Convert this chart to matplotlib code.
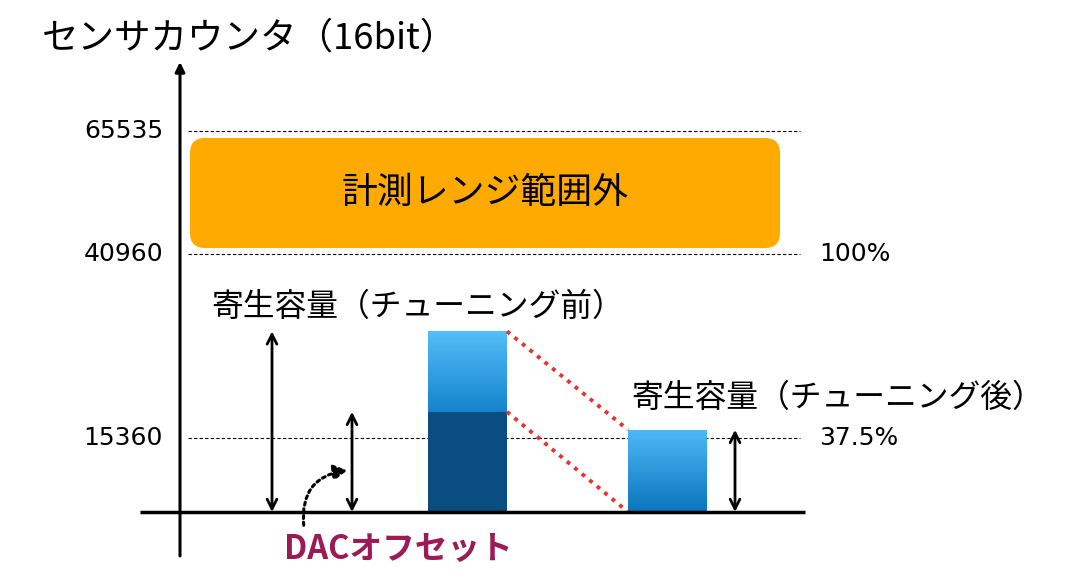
import numpy as np
import matplotlib
matplotlib.use('Agg')
import matplotlib.pyplot as plt
from matplotlib.patches import FancyBboxPatch, FancyArrowPatch
from matplotlib.colors import LinearSegmentedColormap

plt.rcParams['font.family'] = ['Noto Sans CJK JP', 'DejaVu Sans']

# counter levels (16bit) and their labels
levels = [15360, 40960, 65535]
level_labels = ['15360', '40960', '65535']
pct_labels = {15360: '37.5%', 40960: '100%'}

# parasitic capacitance before tuning = DAC offset + remaining part
dac_offset = 19000
parasitic_before = 30200
parasitic_after = 16500

# schematic (not to scale) axis: counts -> drawing height
_cnt = np.array([-20000, 0, 15360, 40960, 65535, 100000])
_pos = np.array([-20000 * 74 / 15360, 0, 74, 258, 381, 381 + 34465 * 123 / 24575])


def fwd(v):
    return np.interp(v, _cnt, _pos)


def inv(p):
    return np.interp(p, _pos, _cnt)


fig = plt.figure(figsize=(10.8, 5.8), dpi=100)
ax = fig.add_axes([0, 0, 1, 1])
ax.set_yscale('function', functions=(fwd, inv))
ax.set_xlim(0, 1080)
ax.set_ylim(inv(-68), inv(512))
ax.axis('off')

num_font = ['DejaVu Sans']

# axes lines
ax.plot([140, 805], [0, 0], color='black', lw=2.5, solid_capstyle='butt', zorder=5)
ax.annotate('', xy=(180, inv(450)), xytext=(180, inv(-44)),
            arrowprops=dict(arrowstyle='-|>', color='black', lw=2.2,
                            mutation_scale=14, shrinkA=0, shrinkB=0))

# dotted guide lines and tick labels
for lv, lb in zip(levels, level_labels):
    ax.plot([188, 800], [lv, lv], color='black', lw=0.8, ls=(0, (3, 2)), zorder=1)
    ax.text(163, lv, lb, ha='right', va='center', fontsize=18, family=num_font)
    if lv in pct_labels:
        ax.text(819, lv, pct_labels[lv], ha='left', va='center', fontsize=18, family=num_font)

# out-of-range box
box_bottom = inv(fwd(40960) + 6)
box_top = inv(fwd(65535) - 7)
y0, y1 = fwd(box_bottom), fwd(box_top)
ax.add_patch(FancyBboxPatch((190, box_bottom), 590, box_top - box_bottom,
                            boxstyle='round,pad=0,rounding_size=15',
                            mutation_aspect=24575 / 123,
                            fc='#FFAA00', ec='none', zorder=2))
ax.text(485, inv((y0 + y1) / 2), '計測レンジ範囲外', ha='center', va='center',
        fontsize=25.8, zorder=3)


def grad_bar(x, w, lo, hi, c_top, c_bot, n=60):
    edges = np.linspace(fwd(lo), fwd(hi), n + 1)
    cmap = LinearSegmentedColormap.from_list('g', [c_bot, c_top])
    for i in range(n):
        b, t = inv(edges[i]), inv(edges[i + 1])
        ax.bar(x, t - b, bottom=b, width=w, align='edge',
               color=cmap((i + 0.5) / n), lw=0, zorder=3)


# before tuning
ax.bar(428, dac_offset, width=79, align='edge', color='#0A4D80', lw=0, zorder=3)
grad_bar(428, 79, dac_offset, parasitic_before, '#52BDF8', '#1483CC')
# after tuning
grad_bar(628, 79, 0, parasitic_after, '#4DB8F4', '#0A74BE')

# red dotted connectors
ax.plot([507, 628], [parasitic_before, parasitic_after], color='#E8322E', lw=2.8,
        ls=(0, (1, 1.5)), zorder=4)
ax.plot([507, 628], [dac_offset, 0], color='#E8322E', lw=2.8,
        ls=(0, (1, 1.5)), zorder=4)


def darrow(x, lo, hi):
    ax.annotate('', xy=(x, hi), xytext=(x, lo),
                arrowprops=dict(arrowstyle='<->,head_width=0.35,head_length=0.7', color='black',
                                lw=2, shrinkA=0, shrinkB=0))


darrow(272, 0, parasitic_before)
darrow(352, 0, dac_offset)
darrow(735, 0, parasitic_after)

# dotted curved arrow to DAC offset
ax.add_patch(FancyArrowPatch((304, inv(-16)), (350, inv(42)),
                             connectionstyle='arc3,rad=-0.5',
                             arrowstyle='-|>,head_width=4.5,head_length=8',
                             color='black', lw=2.2, ls=(0, (1, 1.2)), zorder=5))

# texts
ax.text(42, inv(512 - 38), 'センサカウンタ（16bit）', ha='left', va='center', fontsize=26.3)
ax.text(211, inv(512 - 307), '寄生容量（チューニング前）', ha='left', va='center', fontsize=22.9)
ax.text(631, inv(512 - 398), '寄生容量（チューニング後）', ha='left', va='center', fontsize=22.9)
ax.text(284, inv(512 - 549), 'DACオフセット', ha='left', va='center', fontsize=23.5,
        fontweight='bold', color='#9C1A55')

fig.savefig('out.png', dpi=100)
